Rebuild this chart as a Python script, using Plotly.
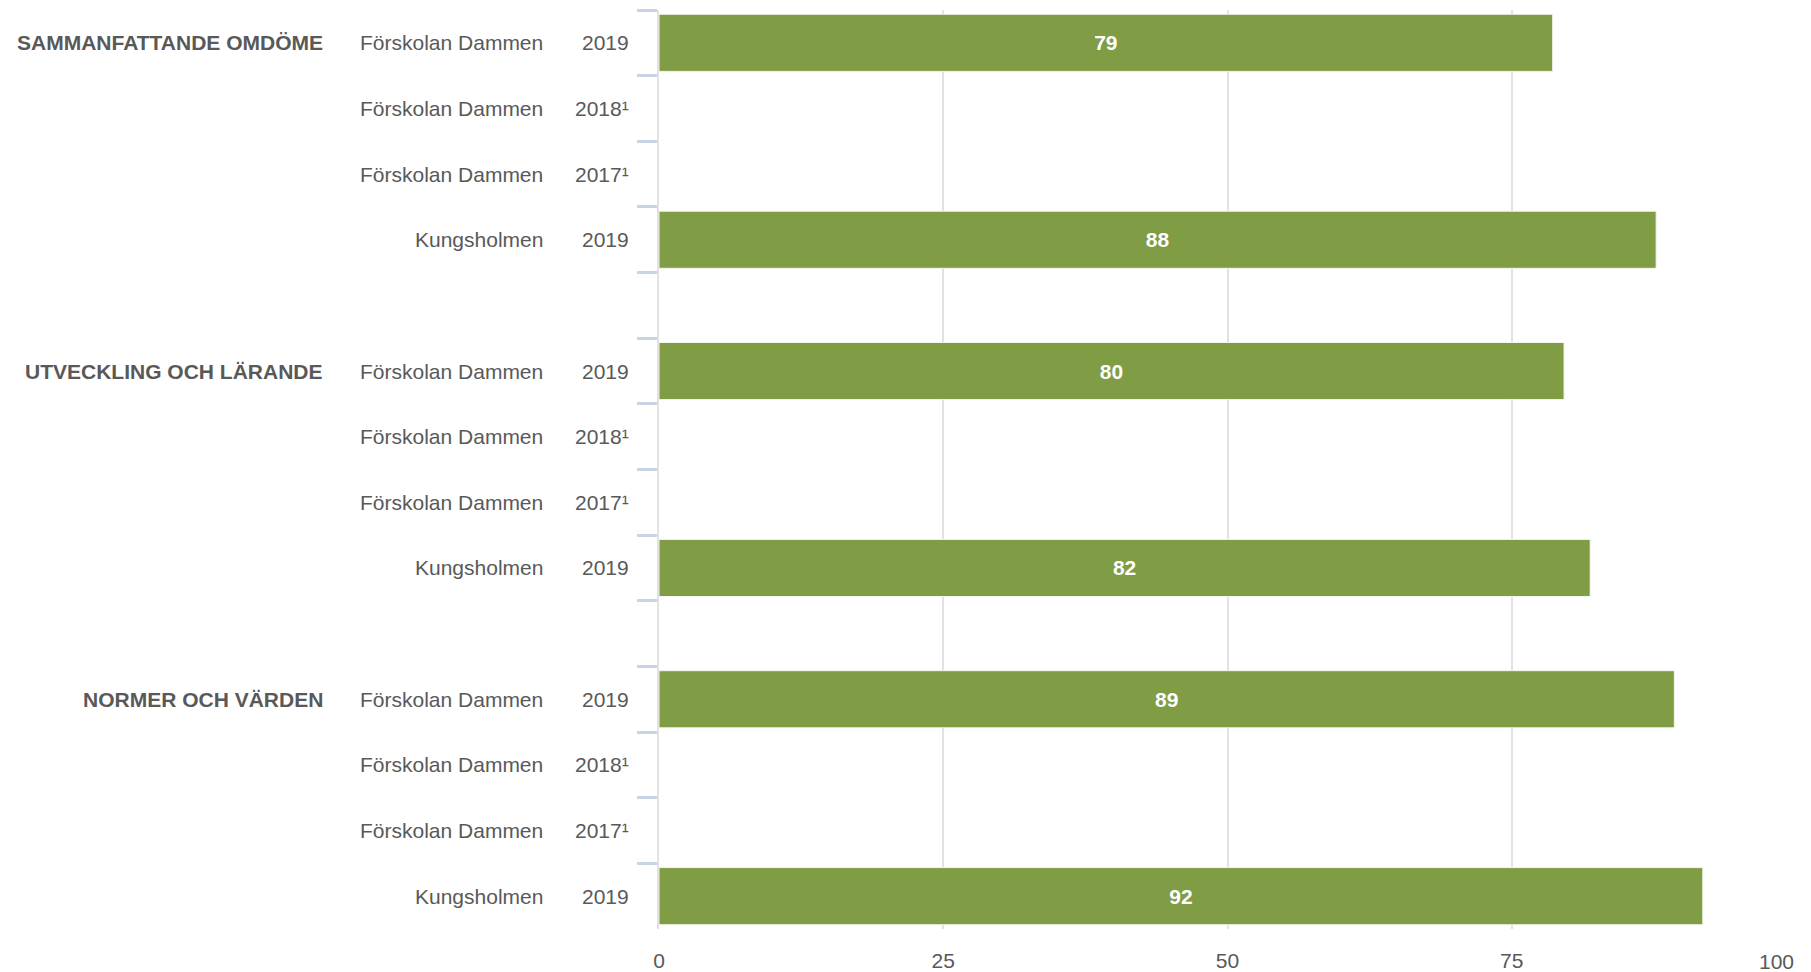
import plotly.graph_objects as go

# ---- data ----
groups = ["SAMMANFATTANDE OMDÖME", "UTVECKLING OCH LÄRANDE", "NORMER OCH VÄRDEN"]
units = ["Förskolan Dammen", "Förskolan Dammen", "Förskolan Dammen", "Kungsholmen"]
years = ["2019", "2018¹", "2017¹", "2019"]
values_sammanfattande = [78.6, None, None, 87.7]
values_utveckling = [79.6, None, None, 81.9]
values_normer = [89.3, None, None, 91.8]
x_ticks = [0, 25, 50, 75, 100]
x_tick_labels = ["0", "25", "50", "75", "100"]

group_values = [values_sammanfattande, values_utveckling, values_normer]

# ---- build rows (with a blank spacer row between groups) ----
row_ids, row_vals, row_text = [], [], []
annotations = []
TXT = "#595959"
FONT = "Liberation Sans, Arial, sans-serif"
for gi, (g, vals) in enumerate(zip(groups, group_values)):
    for ri, (u, yr, v) in enumerate(zip(units, years, vals)):
        rid = f"{g}|{u}|{yr}|{ri}"
        row_ids.append(rid)
        row_vals.append(v)
        row_text.append("" if v is None else f"{round(v):d}")
        annotations.append(dict(x=0, xref="paper", y=rid, yref="y", text=yr,
                                xanchor="right", xshift=-28, showarrow=False,
                                font=dict(size=21, color=TXT, family=FONT)))
        annotations.append(dict(x=0, xref="paper", y=rid, yref="y", text=u,
                                xanchor="right", xshift=-114, showarrow=False,
                                font=dict(size=21, color=TXT, family=FONT)))
        if ri == 0:
            annotations.append(dict(x=0, xref="paper", y=rid, yref="y", text=f"<b>{g}</b>",
                                    xanchor="right", xshift=-334, showarrow=False,
                                    font=dict(size=21, color=TXT, family=FONT)))
    if gi < len(groups) - 1:
        rid = f"gap{gi}"
        row_ids.append(rid)
        row_vals.append(None)
        row_text.append("")

# the last x tick label sits flush with the right edge (kept inside the page, as in the reference)
annotations.append(dict(x=x_ticks[-1], xref="x", y=0, yref="paper", text=x_tick_labels[-1],
                        xanchor="right", yanchor="middle", yshift=-32, showarrow=False,
                        font=dict(size=21, color=TXT, family=FONT)))

fig = go.Figure(go.Bar(
    x=row_vals, y=row_ids, orientation="h",
    marker=dict(color="#809C45", line=dict(color="#F4F6EE", width=1)),
    text=row_text, textposition="inside", insidetextanchor="middle",
    textangle=0,
    textfont=dict(size=21, color="white", family=FONT, weight="bold"),
    hoverinfo="skip",
))

# page body has an 8px default margin; figure offset compensated in the margins
fig.update_layout(
    width=1803, height=964,
    margin=dict(l=651, r=15, t=2, b=43, autoexpand=False),
    paper_bgcolor="white", plot_bgcolor="white",
    bargap=0.13,
    showlegend=False,
    annotations=annotations,
    font=dict(family=FONT, color=TXT, size=21),
)
fig.update_xaxes(
    range=[0, 100], tickvals=x_ticks[:-1], ticktext=x_tick_labels[:-1],
    showgrid=True, gridcolor="#E2E2E2", gridwidth=2,
    zeroline=False, showline=False, ticks="",
    ticklabelstandoff=17,
    tickfont=dict(size=21, color=TXT, family=FONT),
    automargin=False,
    fixedrange=True,
)
fig.update_yaxes(
    type="category", categoryorder="array", categoryarray=row_ids,
    autorange="reversed",
    showticklabels=False, showgrid=False, zeroline=False,
    showline=True, linecolor="#E2E2E2", linewidth=2,
    tickson="boundaries", ticks="outside", ticklen=20, tickwidth=3,
    tickcolor="#C8D3E8",
    automargin=False,
    fixedrange=True,
)

fig.write_html("out.html")
